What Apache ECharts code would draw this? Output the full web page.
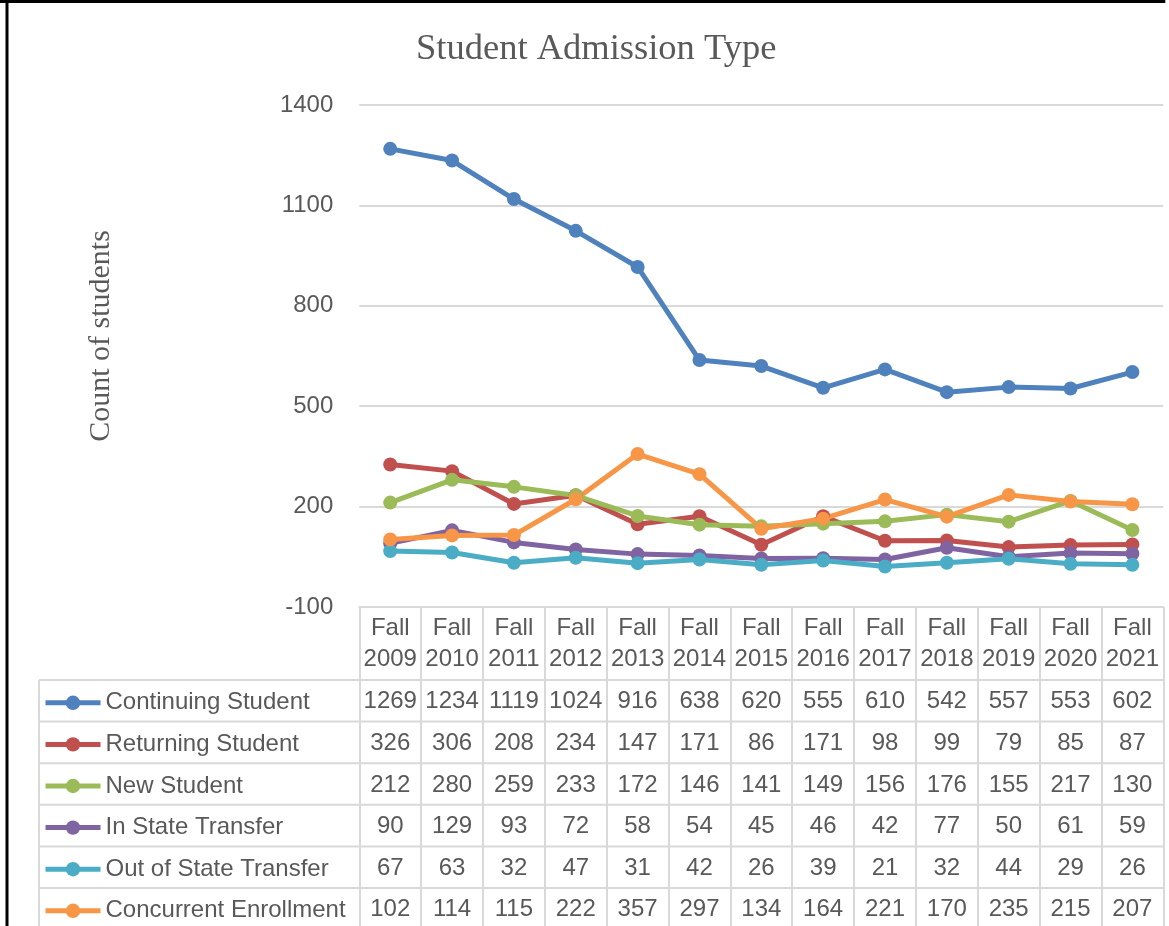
<!DOCTYPE html>
<html>
<head>
<meta charset="utf-8">
<title>Student Admission Type</title>
<script src="https://cdn.jsdelivr.net/npm/echarts@6.0.0/dist/echarts.min.js"></script>
<style>
  html, body { margin: 0; padding: 0; background: #fff; }
  #chart { width: 1169px; height: 926px; }
</style>
</head>
<body>
<div id="chart"></div>
<script>
  var categories = ['Fall 2009', 'Fall 2010', 'Fall 2011', 'Fall 2012', 'Fall 2013', 'Fall 2014', 'Fall 2015',
    'Fall 2016', 'Fall 2017', 'Fall 2018', 'Fall 2019', 'Fall 2020', 'Fall 2021']
  var continuing = [1269, 1234, 1119, 1024, 916, 638, 620, 555, 610, 542, 557, 553, 602]
  var returning = [326, 306, 208, 234, 147, 171, 86, 171, 98, 99, 79, 85, 87]
  var newStudent = [212, 280, 259, 233, 172, 146, 141, 149, 156, 176, 155, 217, 130]
  var inState = [90, 129, 93, 72, 58, 54, 45, 46, 42, 77, 50, 61, 59]
  var outOfState = [67, 63, 32, 47, 31, 42, 26, 39, 21, 32, 44, 29, 26]
  var concurrent = [102, 114, 115, 222, 357, 297, 134, 164, 221, 170, 235, 215, 207]
  var yMin = -100
  var yMax = 1400
  var yStep = 300

  var seriesDefs = [
    { name: 'Continuing Student', data: continuing, color: '#4F81BD' },
    { name: 'Returning Student', data: returning, color: '#C0504D' },
    { name: 'New Student', data: newStudent, color: '#9BBB59' },
    { name: 'In State Transfer', data: inState, color: '#8064A2' },
    { name: 'Out of State Transfer', data: outOfState, color: '#4BACC6' },
    { name: 'Concurrent Enrollment', data: concurrent, color: '#F79646' }
  ]

  // layout (Excel-like chart with data table)
  var W = 1169, H = 926
  var plotLeft = 359.3, plotRight = 1163.3
  var plotTop = 105, axisY = 607
  var headerH = 73, rowH = 41.6
  var tableLeft = 39
  var gridColor = '#d9d9d9'
  var textColor = '#595959'
  var sans = '"Liberation Sans", Arial, sans-serif'
  var serif = '"Liberation Serif", "Times New Roman", serif'

  var xAxes = [{
    type: 'category',
    data: categories,
    gridIndex: 0,
    position: 'bottom',
    axisLine: { show: true, onZero: false, lineStyle: { color: gridColor, width: 2 } },
    axisTick: { show: true, interval: 0, length: H - axisY + 5, lineStyle: { color: gridColor, width: 2 } },
    axisLabel: {
      interval: 0, margin: 6, lineHeight: 31, fontSize: 24, color: textColor, fontFamily: sans,
      formatter: function (v) { return v.replace(' ', '\n') }
    }
  }]
  // one extra axis per table row, labels show that row's values
  seriesDefs.forEach(function (s, k) {
    xAxes.push({
      type: 'category',
      data: categories,
      gridIndex: 0,
      position: 'bottom',
      offset: headerH + k * rowH,
      axisLine: { show: false, onZero: false },
      axisTick: { show: false },
      splitLine: { show: false },
      axisLabel: {
        interval: 0, margin: 1, lineHeight: rowH, fontSize: 24, color: textColor, fontFamily: sans,
        formatter: function (v, i) { return String(s.data[i]) }
      }
    })
  })

  var graphics = [
    { type: 'line', shape: { x1: 7, y1: 0, x2: 7, y2: H }, style: { stroke: '#000', lineWidth: 3 } },
    { type: 'line', shape: { x1: 0, y1: 1.5, x2: plotRight + 2, y2: 1.5 }, style: { stroke: '#000', lineWidth: 3 } },
    { type: 'line', shape: { x1: tableLeft, y1: axisY + headerH, x2: tableLeft, y2: H }, style: { stroke: gridColor, lineWidth: 2 } }
  ]
  for (var k = 0; k <= seriesDefs.length; k++) {
    var y = axisY + headerH + k * rowH
    graphics.push({ type: 'line', shape: { x1: tableLeft, y1: y, x2: plotRight, y2: y }, style: { stroke: gridColor, lineWidth: 2 } })
  }

  var legendLine = 28
  var option = {
    backgroundColor: '#fff',
    animation: false,
    title: {
      text: 'Student Admission Type',
      left: 411,
      top: 26,
      textStyle: { fontFamily: serif, fontSize: 36.5, fontWeight: 'normal', color: textColor }
    },
    legend: {
      orient: 'vertical',
      left: 43,
      top: axisY + headerH + (rowH - legendLine) / 2 + 2,
      padding: 0,
      itemGap: rowH - legendLine,
      itemWidth: 55,
      itemHeight: 18,
      lineStyle: { width: 5 },
      textStyle: { fontSize: 24, color: textColor, fontFamily: sans, lineHeight: legendLine },
      data: seriesDefs.map(function (s) { return s.name })
    },
    grid: {
      left: plotLeft,
      right: W - plotRight,
      top: plotTop,
      bottom: H - axisY,
      containLabel: false,
      outerBoundsMode: 'none'
    },
    xAxis: xAxes,
    yAxis: {
      type: 'value',
      min: yMin,
      max: yMax,
      interval: yStep,
      name: 'Count of students',
      nameLocation: 'middle',
      nameRotate: 90,
      nameGap: 243,
      nameTextStyle: { fontFamily: serif, fontSize: 30, color: textColor, padding: [0, 0, 0, 40] },
      axisLine: { show: false },
      axisTick: { show: false },
      axisLabel: { margin: 26, fontSize: 24, color: textColor, fontFamily: sans, formatter: function (v) { return String(v) } },
      splitLine: { lineStyle: { color: gridColor, width: 2 } }
    },
    graphic: graphics,
    series: seriesDefs.map(function (s) {
      return {
        name: s.name,
        type: 'line',
        data: s.data,
        symbol: 'circle',
        symbolSize: 14,
        color: s.color,
        lineStyle: { width: 5, color: s.color },
        itemStyle: { color: s.color }
      }
    })
  }

  var chart = echarts.init(document.getElementById('chart'))
  chart.setOption(option)
  window.addEventListener('resize', function () {
    chart.resize()
  })
</script>
</body>
</html>
